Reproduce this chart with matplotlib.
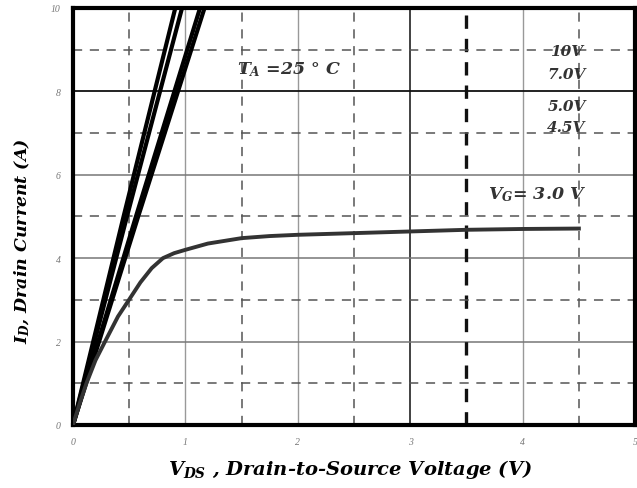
import matplotlib
matplotlib.use("Agg")
import matplotlib.pyplot as plt

plt.rcParams["mathtext.fontset"] = "custom"
plt.rcParams["mathtext.it"] = "DejaVu Serif:italic:bold"
plt.rcParams["mathtext.rm"] = "DejaVu Serif:bold"

# V_G = 10, 7.0, 5.0, 4.5 V: nearly linear from origin up to 10 A
vds_10v = [0, 0.45, 0.91]
id_10v = [0, 5.0, 10]
vds_7v = [0, 0.48, 0.97]
id_7v = [0, 5.0, 10]
vds_5v = [0, 0.56, 1.13]
id_5v = [0, 5.0, 10]
vds_45v = [0, 0.58, 1.17]
id_45v = [0, 5.0, 10]

# V_G = 3.0 V
vds_3v = [0, 0.06, 0.12, 0.2, 0.285, 0.4, 0.51, 0.6, 0.7, 0.8, 0.9, 1.0, 1.2, 1.5, 1.75, 2.0, 2.5, 3.0, 3.5, 4.0, 4.5]
id_3v = [0, 0.52, 1.0, 1.55, 2.0, 2.6, 3.05, 3.42, 3.76, 4.0, 4.12, 4.2, 4.35, 4.48, 4.53, 4.56, 4.6, 4.64, 4.68, 4.7, 4.71]

xticks = [0, 1, 2, 3, 4, 5]
yticks = [0, 2, 4, 6, 8, 10]

serif = "Liberation Serif"
wide = "DejaVu Serif"

fig = plt.figure(figsize=(6.37, 4.89), dpi=100)
ax = fig.add_axes([0.1146, 0.129, 0.8824, 0.8526])
ax.set_xlim(0, 5)
ax.set_ylim(0, 10)

# grid: solid at whole numbers, dashed at halves
for x in [1, 2, 4]:
    ax.axvline(x, color="#999999", lw=1.0, zorder=1)
ax.axvline(3, color="#333333", lw=1.3, zorder=1)
for y in [2, 4, 6]:
    ax.axhline(y, color="#777777", lw=1.1, zorder=1)
ax.axhline(8, color="#111111", lw=1.3, zorder=1)
for x in [0.5, 1.5, 2.5, 4.5]:
    ax.axvline(x, color="#555555", lw=1.1, ls=(0, (6, 5)), zorder=1)
ax.axvline(3.5, color="#111111", lw=2.4, ls=(0, (4, 3)), zorder=1)
for y in [1, 3, 5, 7, 9]:
    ax.axhline(y, color="#555555", lw=1.1, ls=(0, (6, 5)), zorder=1)

for vx, iy in [(vds_10v, id_10v), (vds_7v, id_7v), (vds_5v, id_5v), (vds_45v, id_45v)]:
    ax.plot(vx, iy, color="black", lw=3.0, zorder=3)
ax.plot(vds_3v, id_3v, color="#333333", lw=2.8, zorder=3, solid_joinstyle="round")

for s in ax.spines.values():
    s.set_linewidth(3)
ax.set_xticks(xticks)
ax.set_yticks(yticks)
ax.set_xticklabels([str(t) for t in xticks], fontfamily=serif, fontstyle="italic",
                   fontsize=7, color="#777777")
ax.set_yticklabels([str(t) for t in yticks], fontfamily=serif, fontstyle="italic",
                   fontsize=7, color="#777777")
ax.tick_params(length=0, pad=9)

txt = dict(fontfamily=wide, fontstyle="italic", fontweight="bold", color="#333333")
ax.text(1.46, 8.54, r"$T_A$ =25 ° C", fontsize=12.5, va="center", **txt)
ax.text(4.24, 8.97, "10V", fontsize=11, va="center", **txt)
ax.text(4.22, 8.42, "7.0V", fontsize=11, va="center", **txt)
ax.text(4.22, 7.65, "5.0V", fontsize=11, va="center", **txt)
ax.text(4.22, 7.15, "4.5V", fontsize=11, va="center", **txt)
ax.text(3.69, 5.54, r"$V_G$= 3.0 V", fontsize=12.5, va="center", **txt)

lab = dict(fontfamily=wide, fontstyle="italic", fontweight="bold", color="black")
fig.text(0.035, 0.507, r"$I_D$, Drain Current (A)", rotation=90, ha="center", va="center",
         fontsize=12.5, **lab)
fig.text(0.55, 0.039, r"$V_{DS}$ , Drain-to-Source Voltage (V)", ha="center", va="center",
         fontsize=14, **lab)

fig.savefig("out.png", dpi=100)
